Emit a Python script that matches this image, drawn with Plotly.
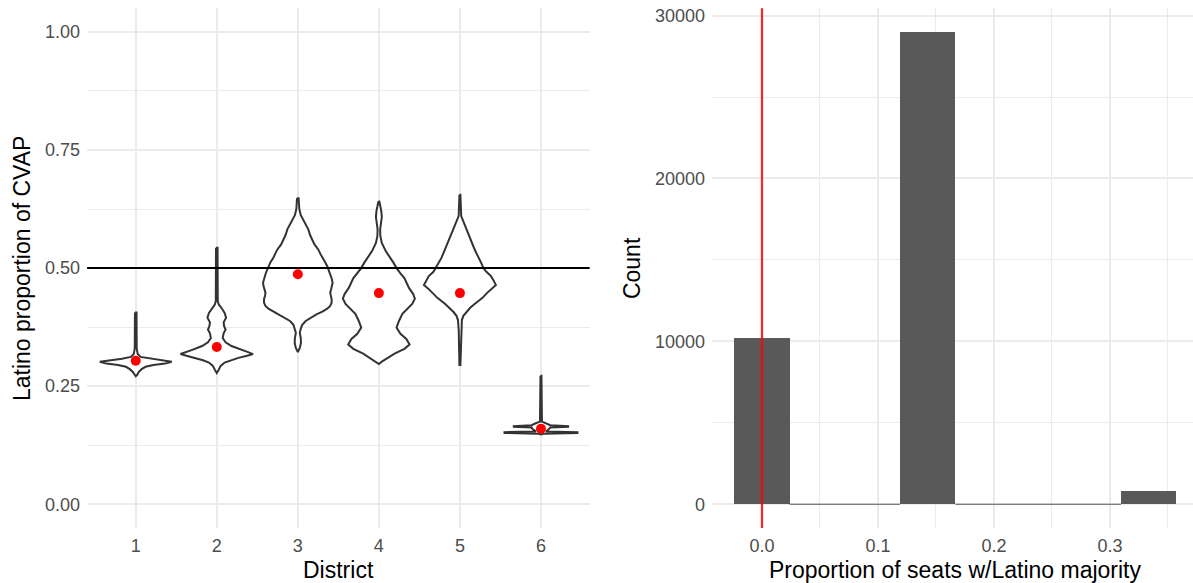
import plotly.graph_objects as go

# ---------------- data ----------------
districts = [1, 2, 3, 4, 5, 6]
district_means = [0.304, 0.333, 0.487, 0.447, 0.447, 0.160]

# violin outlines: Latino share (value) and relative density (half-width)
d1_val = [0.406, 0.330, 0.318, 0.312, 0.308, 0.305, 0.3015, 0.298, 0.295, 0.291, 0.286, 0.280, 0.274, 0.271]
d1_den = [0.8, 1.0, 2.0, 5.0, 14.0, 26.0, 36.7, 30.0, 18.0, 10.0, 6.0, 3.0, 1.5, 0.0]

d2_val = [0.543, 0.430, 0.423, 0.415, 0.405, 0.395, 0.385, 0.377, 0.370, 0.362, 0.352, 0.343, 0.335,
          0.327, 0.322, 0.318, 0.314, 0.310, 0.305, 0.300, 0.293, 0.285, 0.278]
d2_den = [0.8, 1.0, 2.0, 5.0, 8.0, 9.5, 7.0, 7.5, 9.0, 7.0, 6.0, 9.0, 15.0,
          25.0, 32.0, 37.0, 30.0, 22.0, 14.0, 8.0, 4.0, 2.0, 0.0]

d3_val = [0.648, 0.625, 0.612, 0.603, 0.592, 0.582, 0.570, 0.560, 0.550, 0.539, 0.530, 0.522, 0.512,
          0.504, 0.495, 0.487, 0.478, 0.469, 0.462, 0.455, 0.448, 0.441, 0.434, 0.427, 0.420,
          0.414, 0.408, 0.402, 0.395, 0.388, 0.380, 0.372, 0.363, 0.352, 0.342, 0.332, 0.322]
d3_den = [0.8, 1.5, 3.0, 5.3, 8.0, 10.7, 12.5, 14.7, 17.0, 21.0, 23.0, 25.0, 28.0,
          30.0, 31.5, 33.0, 34.5, 35.5, 35.0, 34.0, 33.0, 33.5, 34.5, 34.5, 33.0,
          30.0, 25.0, 19.0, 13.0, 8.0, 4.5, 3.0, 2.0, 3.0, 3.2, 2.2, 0.0]

d4_val = [0.641, 0.631, 0.620, 0.608, 0.595, 0.582, 0.568, 0.553, 0.536, 0.522, 0.511, 0.500, 0.489,
          0.479, 0.468, 0.458, 0.445, 0.435, 0.424, 0.414, 0.403, 0.388, 0.374, 0.361, 0.350,
          0.338, 0.329, 0.319, 0.308, 0.302, 0.297]
d4_den = [0.5, 1.5, 2.5, 3.0, 2.2, 1.3, 1.5, 3.0, 7.0, 11.7, 15.0, 18.0, 22.0,
          26.0, 28.5, 30.7, 35.0, 36.7, 34.0, 29.0, 24.0, 20.5, 18.0, 22.0, 28.0,
          31.3, 26.0, 16.0, 7.3, 3.0, 0.0]

d5_val = [0.655, 0.610, 0.599, 0.586, 0.574, 0.563, 0.553, 0.542, 0.532, 0.521, 0.511, 0.500, 0.492,
          0.483, 0.475, 0.464, 0.456, 0.447, 0.437, 0.424, 0.416, 0.407, 0.399, 0.390, 0.367, 0.295]
d5_den = [0.5, 1.3, 3.5, 6.0, 8.3, 10.0, 12.3, 14.5, 16.7, 19.0, 21.7, 24.0, 27.0,
          31.7, 34.0, 36.7, 32.0, 27.5, 23.0, 15.0, 10.5, 6.5, 3.5, 2.0, 1.2, 0.5]

d6_val = [0.272, 0.175, 0.171, 0.1675, 0.1655, 0.1640, 0.1625, 0.160, 0.157, 0.1540, 0.1527, 0.1510, 0.1495, 0.148]
d6_den = [0.5, 1.0, 6.0, 9.5, 27.7, 27.7, 9.5, 9.0, 7.0, 5.0, 37.2, 37.2, 3.0, 0.0]

violin_vals = [d1_val, d2_val, d3_val, d4_val, d5_val, d6_val]
violin_dens = [d1_den, d2_den, d3_den, d4_den, d5_den, d6_den]

# histogram of proportion of seats with Latino majority (8 bins)
bin_centers = [0.0, 0.0476, 0.0952, 0.1429, 0.1905, 0.2381, 0.2857, 0.3333]
bin_counts = [10200, 0, 0, 29000, 0, 0, 0, 800]
bin_width = 0.0476

x_ticks_left = [1, 2, 3, 4, 5, 6]
y_ticks_left = [0.0, 0.25, 0.5, 0.75, 1.0]
y_ticktext_left = ["0.00", "0.25", "0.50", "0.75", "1.00"]
x_ticks_right = [0.0, 0.1, 0.2, 0.3]
x_ticktext_right = ["0.0", "0.1", "0.2", "0.3"]
y_ticks_right = [0, 10000, 20000, 30000]

# ---------------- styling ----------------
W, H = 1193, 583
FONT = "Liberation Sans, Arial, sans-serif"
TICK_COL = "#4D4D4D"
GRID = "#EBEBEB"
OUTLINE = "#333333"
BAR = "#595959"

max_den = max(max(d) for d in violin_dens)
half_scale = 0.45 / max_den

fig = go.Figure()

# violins
for c, vals, dens in zip(districts, violin_vals, violin_dens):
    xs = [c - d * half_scale for d in dens] + [c + d * half_scale for d in reversed(dens)]
    ys = list(vals) + list(reversed(vals))
    xs.append(xs[0]); ys.append(ys[0])
    fig.add_trace(go.Scatter(x=xs, y=ys, mode="lines", fill="toself", fillcolor="white",
                             line=dict(color=OUTLINE, width=2.0), hoverinfo="skip",
                             showlegend=False, xaxis="x", yaxis="y"))

fig.add_trace(go.Scatter(x=districts, y=district_means, mode="markers",
                         marker=dict(color="red", size=10), showlegend=False,
                         xaxis="x", yaxis="y"))

# histogram bars
fig.add_trace(go.Bar(x=bin_centers, y=bin_counts, width=bin_width, marker=dict(color=BAR, line=dict(width=0)),
                     showlegend=False, xaxis="x2", yaxis="y2"))
# zero-count bins drawn as flat lines (as ggplot does)
zx, zy = [], []
for c, n in zip(bin_centers, bin_counts):
    if n == 0:
        zx += [c - bin_width / 2, c + bin_width / 2, None]
        zy += [n, n, None]
fig.add_trace(go.Scatter(x=zx, y=zy, mode="lines", line=dict(color=BAR, width=1.2),
                         showlegend=False, hoverinfo="skip", xaxis="x2", yaxis="y2"))

# reference lines
fig.add_shape(type="line", xref="x domain", x0=0, x1=1, yref="y", y0=0.5, y1=0.5,
              line=dict(color="black", width=2))
fig.add_shape(type="line", xref="x2", x0=0, x1=0, yref="y2 domain", y0=0, y1=1,
              line=dict(color="rgba(255,0,0,0.85)", width=2.2))

px = lambda p: p / W
py = lambda p: 1 - p / H
ydom = [py(527.7), py(6.3)]

tickfont = dict(family=FONT, size=18, color=TICK_COL)
common = dict(showline=False, zeroline=False, ticks="", gridcolor=GRID, gridwidth=1.8,
              tickfont=tickfont, showgrid=True)

fig.update_layout(
    width=W, height=H, margin=dict(l=0, r=0, t=0, b=0),
    paper_bgcolor="white", plot_bgcolor="white", showlegend=False,
    xaxis=dict(domain=[px(87.1), px(589.6)], range=[0.4, 6.6], tickvals=x_ticks_left,
               ticktext=[str(t) for t in x_ticks_left], anchor="y", ticklabelstandoff=5, **common),
    yaxis=dict(domain=ydom, range=[-0.05, 1.05], tickvals=y_ticks_left, ticktext=y_ticktext_left,
               anchor="x", ticklabelstandoff=6,
               minor=dict(showgrid=True, gridcolor=GRID, gridwidth=1.0, tickvals=[0.125, 0.375, 0.625, 0.875]),
               **common),
    xaxis2=dict(domain=[px(712), 1.0], range=[-0.0431, 0.3716], tickvals=x_ticks_right,
                ticktext=x_ticktext_right, anchor="y2", ticklabelstandoff=5,
                minor=dict(showgrid=True, gridcolor=GRID, gridwidth=1.0, tickvals=[0.05, 0.15, 0.25, 0.35]),
                **common),
    yaxis2=dict(domain=ydom, range=[-1450, 30450], tickvals=y_ticks_right,
                ticktext=[str(t) for t in y_ticks_right], anchor="x2", ticklabelstandoff=6,
                minor=dict(showgrid=True, gridcolor=GRID, gridwidth=1.0, tickvals=[5000, 15000, 25000]),
                **common),
    bargap=0,
)

titlefont = dict(family=FONT, size=23, color="black")
ymid = (ydom[0] + ydom[1]) / 2
fig.add_annotation(text="District", xref="paper", yref="paper", x=px(338), y=py(570),
                   xanchor="center", yanchor="middle", showarrow=False, font=titlefont)
fig.add_annotation(text="Proportion of seats w/Latino majority", xref="paper", yref="paper",
                   x=px(955), y=py(570), xanchor="center", yanchor="middle", showarrow=False, font=titlefont)
fig.add_annotation(text="Latino proportion of CVAP", xref="paper", yref="paper", x=px(22), y=ymid,
                   xanchor="center", yanchor="middle", textangle=-90, showarrow=False, font=titlefont)
fig.add_annotation(text="Count", xref="paper", yref="paper", x=px(632), y=ymid,
                   xanchor="center", yanchor="middle", textangle=-90, showarrow=False, font=titlefont)

fig.write_html("out.html")
